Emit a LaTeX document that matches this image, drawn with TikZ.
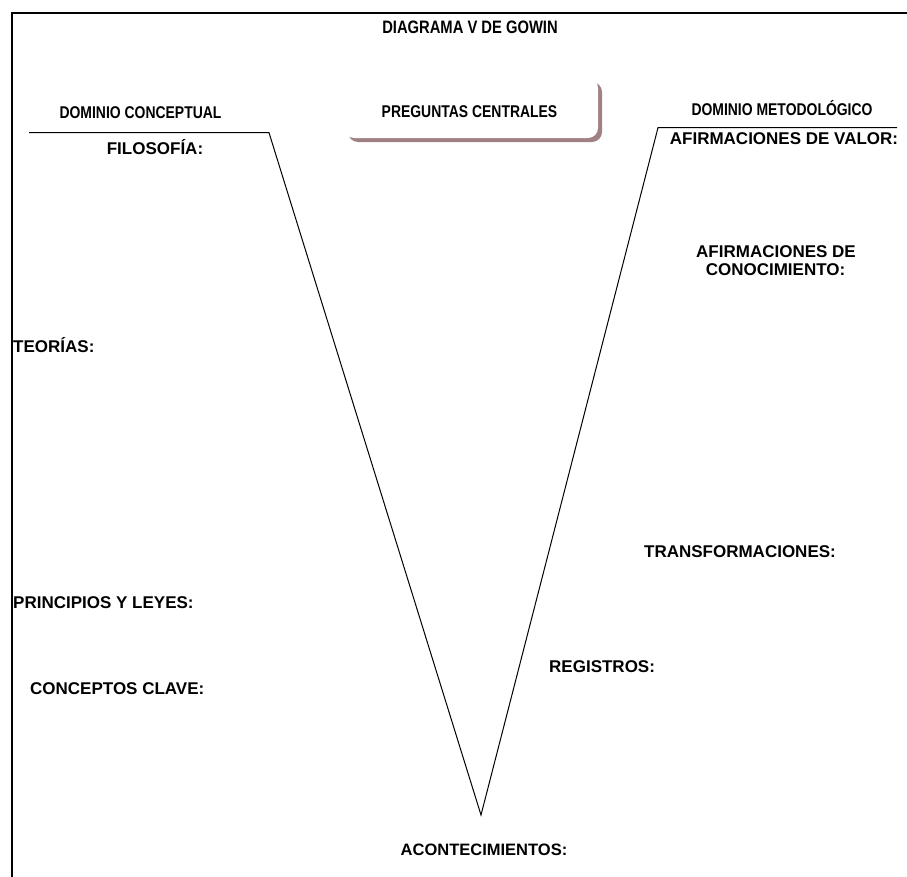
\documentclass[tikz,border=0pt]{standalone}
\usepackage{fontspec}
\setmainfont{Liberation Sans}
\newfontfamily\narrowfont[FakeStretch=0.82]{Liberation Sans}
\usetikzlibrary{shadows}
\definecolor{boxshadow}{RGB}{160,128,130}
\begin{document}
\begin{tikzpicture}[x=1bp,y=-1bp,
  lbl/.style={inner sep=0pt, font=\fontsize{17bp}{18bp}\selectfont\bfseries, anchor=base},
  lblw/.style={lbl, anchor=base west},
  nlbl/.style={inner sep=0pt, font=\fontsize{17bp}{18bp}\selectfont\narrowfont\bfseries, anchor=base},
  vline/.style={draw=black, line width=1bp},
  frame/.style={draw=black, line width=2bp},
  qbox/.style={fill=white, rounded corners=10bp, minimum width=254bp, minimum height=60bp, inner sep=0pt,
    drop shadow={shadow xshift=4bp, shadow yshift=-4bp, fill=boxshadow, opacity=1}}]
\useasboundingbox (0,0) rectangle (907,877);
% frame
\coordinate (ftr) at (907,13.3);
\coordinate (ftl) at (12.3,13.3);
\coordinate (fbl) at (12.3,877);
\draw[frame] (ftr) -- (ftl) -- (fbl);
% V
\coordinate (l0) at (29,132.7);
\coordinate (l1) at (269,132.7);
\coordinate (tip) at (481,815);
\coordinate (r1) at (658,127.7);
\coordinate (r0) at (897,127.7);
\draw[vline] (l0) -- (l1) -- (tip) -- (r1) -- (r0);
% central questions box
\node[qbox] (pcbox) at (471,108) {};
\node[nlbl] (pc) at (469.5,117) {PREGUNTAS CENTRALES};
% titles
\node[nlbl, font=\fontsize{18bp}{19bp}\selectfont\narrowfont\bfseries] (title) at (470,33) {DIAGRAMA V DE GOWIN};
\node[nlbl] (dc) at (140.5,118) {DOMINIO CONCEPTUAL};
\node[nlbl] (dm) at (782,115.5) {DOMINIO METODOLÓGICO};
% left side
\node[lbl] (fil) at (155,154.5) {FILOSOFÍA:};
\node[lblw] (teo) at (13,352) {TEORÍAS:};
\node[lblw] (pri) at (13,608) {PRINCIPIOS Y LEYES:};
\node[lblw] (con) at (30,694.5) {CONCEPTOS CLAVE:};
% right side
\node[lbl] (av) at (784,144) {AFIRMACIONES DE VALOR:};
\node[lbl] (ac1) at (776,257.5) {AFIRMACIONES DE};
\node[lbl] (ac2) at (775.5,275.5) {CONOCIMIENTO:};
\node[lbl] (tr) at (740,557) {TRANSFORMACIONES:};
\node[lblw] (reg) at (549,672) {REGISTROS:};
% bottom
\node[lbl, font=\fontsize{16.5bp}{18bp}\selectfont\bfseries] (acon) at (484,855) {ACONTECIMIENTOS:};
\end{tikzpicture}
\end{document}
